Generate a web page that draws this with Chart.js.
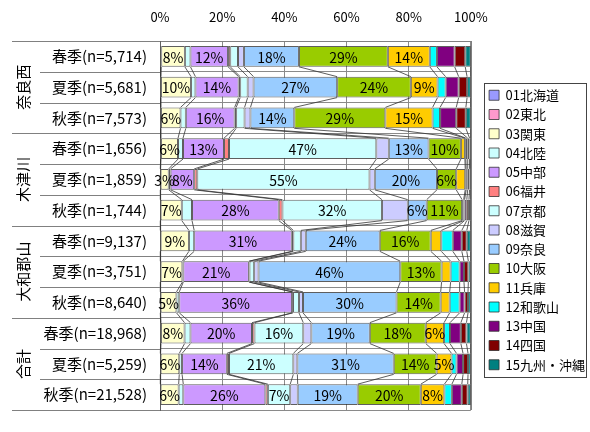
<!DOCTYPE html>
<html lang="ja">
<head>
<meta charset="utf-8">
<title>来訪者の居住地（季節別）</title>
<script src="https://cdn.jsdelivr.net/npm/chart.js@4.4.0/dist/chart.umd.min.js"></script>
<style>
  body { margin: 0; background: #fff; }
  #wrap { width: 590px; height: 432px; }
</style>
</head>
<body>
<div id="wrap"><canvas id="myChart" width="590" height="432"></canvas></div>
<script>
// rows (top to bottom)
const labels = [
  '春季(n=5,714)', '夏季(n=5,681)', '秋季(n=7,573)',
  '春季(n=1,656)', '夏季(n=1,859)', '秋季(n=1,744)',
  '春季(n=9,137)', '夏季(n=3,751)', '秋季(n=8,640)',
  '春季(n=18,968)', '夏季(n=5,259)', '秋季(n=21,528)',
];
const groups = ['奈良西', '木津川', '大和郡山', '合計'];

const seriesNames = [
  '01北海道', '02東北', '03関東', '04北陸', '05中部', '06福井', '07京都', '08滋賀',
  '09奈良', '10大阪', '11兵庫', '12和歌山', '13中国', '14四国', '15九州・沖縄'
];
const colors = [
  '#9999FF', '#FF99CC', '#FFFFCC', '#CCFFFF', '#CC99FF', '#FF8080', '#CCFFFF', '#CCCCFF',
  '#99CCFF', '#99CC00', '#FFCC00', '#00FFFF', '#800080', '#800000', '#008080'
];

// shares in % (one array per region of origin)
const hokkaido = [0.2, 0.2, 0.2, 0.2, 0.1, 0.1, 0.1, 0.1, 0.1, 0.2, 0.1, 0.1];
const tohoku   = [0.2, 0.1, 0.1, 0.1, 0.1, 0.1, 0.1, 0.1, 0.1, 0.1, 0.1, 0.1];
const kanto    = [7.6, 9.7, 6.3, 5.5, 2.6, 6.8, 9.1, 7.0, 5.1, 7.6, 6.0, 5.8];
const hokuriku = [1.8, 1.4, 1.7, 1.6, 0.6, 3.3, 1.7, 0.3, 0.9, 1.9, 0.9, 1.5];
const chubu    = [12.1, 13.9, 15.7, 13.2, 7.6, 27.9, 31.4, 21.1, 36.3, 19.8, 14.4, 26.4];
const fukui    = [0.7, 0.5, 0.5, 1.6, 1.0, 1.2, 0.5, 0.2, 0.3, 0.8, 0.7, 0.8];
const kyoto    = [2.5, 2.4, 2.7, 47.4, 55.4, 32.0, 2.4, 1.5, 1.9, 15.7, 20.7, 7.2];
const shiga    = [1.9, 1.9, 1.9, 4.0, 1.7, 8.3, 1.6, 1.4, 1.3, 2.6, 1.3, 2.4];
const nara     = [17.7, 26.9, 14.1, 12.8, 20.0, 6.1, 23.8, 45.6, 30.1, 18.8, 31.0, 19.3];
const osaka    = [28.6, 23.7, 29.3, 10.4, 6.2, 11.4, 16.4, 13.3, 14.2, 18.0, 13.8, 20.3];
const hyogo    = [13.5, 8.6, 15.2, 1.3, 2.9, 0.5, 3.4, 2.9, 2.9, 5.9, 4.8, 7.6];
const wakayama = [2.3, 2.6, 2.4, 0.3, 0.3, 0.3, 3.7, 2.9, 3.2, 1.9, 1.6, 2.4];
const chugoku  = [5.7, 4.2, 5.2, 0.6, 0.5, 0.7, 2.9, 1.4, 1.6, 3.5, 2.1, 3.2];
const shikoku  = [3.4, 2.7, 3.1, 0.6, 0.6, 0.7, 1.6, 1.4, 1.1, 1.8, 1.6, 1.9];
const kyushu   = [1.8, 1.2, 1.6, 0.4, 0.4, 0.6, 1.3, 0.8, 0.9, 1.4, 0.9, 1.0];

const seriesValues = [hokkaido, tohoku, kanto, hokuriku, chubu, fukui, kyoto, shiga,
  nara, osaka, hyogo, wakayama, chugoku, shikoku, kyushu];

// which series get a % label, and from what size (null = never)
const labelMin = [null, null, 2, null, 4.5, null, 4.5, null, 4.5, 4.5, 4.5, null, null, null, null];

const xTicks = [0, 20, 40, 60, 80, 100];

Chart.defaults.font.family = "'Noto Sans CJK JP', 'Noto Sans', sans-serif";
Chart.defaults.color = '#000';

const datasets = seriesNames.map((name, i) => ({
  label: name,
  data: seriesValues[i],
  backgroundColor: colors[i],
  borderColor: 'rgba(40,40,40,0.75)',
  borderWidth: 1,
  borderSkipped: false,
  barPercentage: 0.68,
  categoryPercentage: 1.0,
}));

// excel-like extras: series lines, value labels, left group column, legend frame
const extras = {
  id: 'extras',
  afterLayout(chart) {
    var lg = chart.legend;
    lg.left += 12; lg.right += 12;
    lg.top += 4.5; lg.bottom += 4.5;
  },
  afterDatasetsDraw(chart) {
    var ctx = chart.ctx;
    ctx.save();
    // series lines
    ctx.strokeStyle = '#333';
    ctx.lineWidth = 0.8;
    chart.data.datasets.forEach((ds, d) => {
      var bars = chart.getDatasetMeta(d).data;
      for (var i = 0; i < bars.length - 1; i++) {
        var a = bars[i], b = bars[i + 1];
        ctx.beginPath();
        ctx.moveTo(a.x, a.y + a.height / 2);
        ctx.lineTo(b.x, b.y - b.height / 2);
        ctx.stroke();
      }
    });
    // value labels
    ctx.font = "14px 'Noto Sans CJK JP'";
    ctx.fillStyle = '#000';
    ctx.textAlign = 'center';
    ctx.textBaseline = 'middle';
    chart.data.datasets.forEach((ds, d) => {
      if (labelMin[d] === null) return;
      var bars = chart.getDatasetMeta(d).data;
      bars.forEach((el, i) => {
        var v = ds.data[i];
        if (v < labelMin[d]) return;
        ctx.fillText(Math.round(v) + '%', (el.base + el.x) / 2, el.y + 1);
      });
    });
    ctx.restore();
  },
  afterDraw(chart) {
    var ctx = chart.ctx;
    var area = chart.chartArea;
    var y = chart.scales.y;
    ctx.save();
    ctx.strokeStyle = '#808080';
    ctx.lineWidth = 1;
    // separators in the left label column
    for (var b = 0; b <= labels.length; b++) {
      var py;
      if (b === 0) py = area.top;
      else if (b === labels.length) py = area.bottom;
      else py = (y.getPixelForValue(b - 1) + y.getPixelForValue(b)) / 2;
      py = Math.round(py) + 0.5;
      ctx.beginPath();
      ctx.moveTo(b % 3 === 0 ? 12 : 40, py);
      ctx.lineTo(area.left, py);
      ctx.stroke();
    }
    // right edge of plot
    ctx.beginPath();
    ctx.moveTo(Math.round(area.right) + 0.5, area.top);
    ctx.lineTo(Math.round(area.right) + 0.5, area.bottom);
    ctx.stroke();

    // group names, vertical
    ctx.fillStyle = '#000';
    ctx.font = "15px 'Noto Sans CJK JP'";
    ctx.textAlign = 'center';
    ctx.textBaseline = 'middle';
    groups.forEach((g, k) => {
      var yc = (y.getPixelForValue(k * 3) + y.getPixelForValue(k * 3 + 2)) / 2;
      ctx.save();
      ctx.translate(23, yc);
      ctx.rotate(-Math.PI / 2);
      ctx.fillText(g, 0, 0);
      ctx.restore();
    });

    // legend frame
    var hb = chart.legend.legendHitBoxes;
    if (hb && hb.length) {
      var last = hb[hb.length - 1];
      var l = Math.round(hb[0].left - 5) + 0.5;
      var t = Math.round(hb[0].top - 6) + 0.5;
      var r = Math.round(hb[0].left + 97) + 0.5;
      var btm = Math.round(last.top + last.height + 6) + 0.5;
      ctx.strokeStyle = '#444';
      ctx.strokeRect(l, t, r - l, btm - t);
    }
    ctx.restore();
  }
};

const config = {
  type: 'bar',
  data: { labels: labels, datasets: datasets },
  options: {
    indexAxis: 'y',
    responsive: false,
    animation: false,
    devicePixelRatio: 1,
    layout: { padding: { top: 0, right: 7, bottom: 0, left: 0 } },
    scales: {
      x: {
        position: 'top',
        stacked: true,
        min: 0,
        max: 100,
        afterBuildTicks: (scale) => { scale.ticks = xTicks.map(v => ({ value: v })); },
        afterFit: (scale) => { scale.height = 41; },
        ticks: { padding: 16, font: { size: 13 }, callback: (v) => v + '%' },
        grid: { color: '#8a8a8a', drawTicks: false },
        border: { color: '#808080' }
      },
      y: {
        stacked: true,
        afterFit: (scale) => { scale.width = 160; },
        ticks: { padding: 13, font: { size: 15 } },
        grid: { color: '#8a8a8a', drawTicks: false, offset: true },
        border: { color: '#606060' }
      }
    },
    plugins: {
      legend: {
        position: 'right',
        fullSize: false,
        labels: { boxWidth: 10, boxHeight: 10, padding: 6.25, font: { size: 13 } }
      },
      tooltip: { enabled: false }
    }
  },
  plugins: [extras]
};

var chart = document.querySelector('#myChart');
var myChart = new Chart(chart, config);
</script>
</body>
</html>
